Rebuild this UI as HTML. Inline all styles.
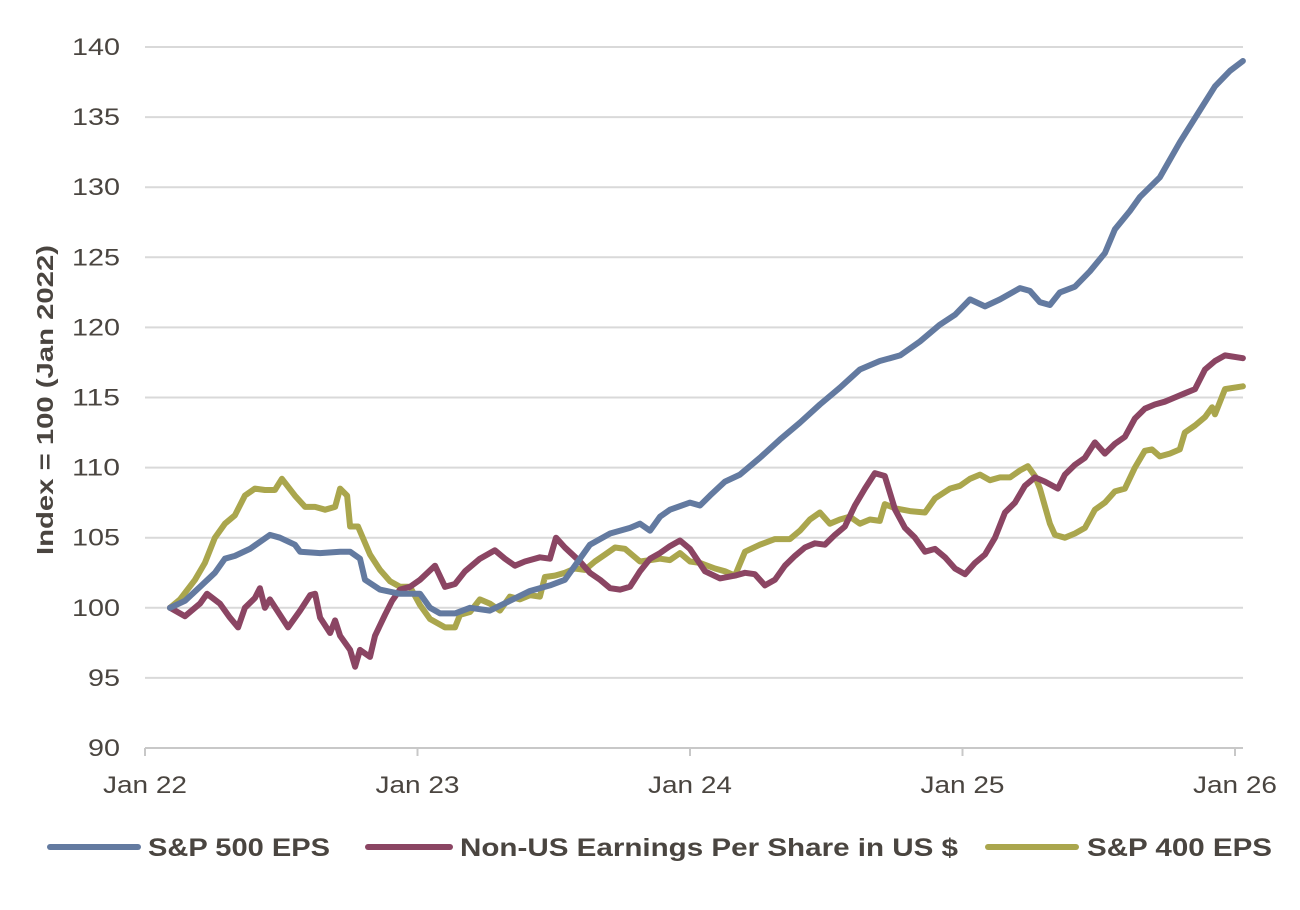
<!DOCTYPE html>
<html><head><meta charset="utf-8"><style>
html,body{margin:0;padding:0;background:#fff;}
svg{display:block;font-family:"Liberation Sans",sans-serif;}
</style></head><body>
<svg id="chart" width="1300" height="910" viewBox="0 0 1300 910">
<g id="grid"></g>
<g id="yticks"></g>
<g id="xaxis"></g>
<g id="series"></g>
<text transform="translate(53,400) rotate(-90)" text-anchor="middle" font-size="23" font-weight="bold" fill="#4a4540" textLength="310" lengthAdjust="spacingAndGlyphs">Index = 100 (Jan 2022)</text>
<g>
 <g><line x1="50" y1="847" x2="138" y2="847" stroke="#637aa0" stroke-width="6" stroke-linecap="round"/><text x="148" y="856" font-size="25" font-weight="bold" fill="#4a4540" textLength="182" lengthAdjust="spacingAndGlyphs">S&amp;P 500 EPS</text></g>
 <g><line x1="368" y1="847" x2="450" y2="847" stroke="#8b4563" stroke-width="6" stroke-linecap="round"/><text x="460" y="856" font-size="25" font-weight="bold" fill="#4a4540" textLength="498" lengthAdjust="spacingAndGlyphs">Non-US Earnings Per Share in US $</text></g>
 <g><line x1="988" y1="847" x2="1076" y2="847" stroke="#aaa64d" stroke-width="6" stroke-linecap="round"/><text x="1087" y="856" font-size="25" font-weight="bold" fill="#4a4540" textLength="185" lengthAdjust="spacingAndGlyphs">S&amp;P 400 EPS</text></g>
</g>
</svg>
<script>
// months since Jan 2022, index values
const yTicks = [90,95,100,105,110,115,120,125,130,135,140];
const xTickMonths = [0,12,24,36,48];
const xTickLabels = ["Jan 22","Jan 23","Jan 24","Jan 25","Jan 26"];

const spMonths = [1.10,1.76,2.42,3.08,3.52,3.96,4.62,5.50,5.94,6.60,6.83,7.71,8.59,9.03,9.47,9.69,10.35,11.23,12.11,12.55,12.99,13.65,14.31,15.19,16.07,16.95,17.83,18.49,19.15,19.59,20.48,21.36,21.80,22.24,22.68,23.12,24.00,24.44,24.88,25.54,26.20,27.08,27.96,28.84,29.72,30.60,31.48,32.36,33.25,34.13,35.01,35.67,36.33,36.99,37.65,38.53,38.97,39.41,39.85,40.29,40.95,41.61,42.27,42.71,43.37,43.81,44.69,45.57,46.46,47.12,47.78,48.35];
const spValues = [100,100.5,101.5,102.5,103.5,103.7,104.2,105.2,105,104.5,104,103.9,104,104,103.5,102,101.3,101,101,100,99.6,99.6,100,99.8,100.5,101.2,101.6,102,103.5,104.5,105.3,105.7,106,105.5,106.5,107,107.5,107.3,108,109,109.5,110.7,112,113.2,114.5,115.7,117,117.6,118,119,120.2,120.9,122,121.5,122,122.8,122.6,121.8,121.6,122.5,122.9,124,125.3,127,128.3,129.3,130.7,133.2,135.5,137.2,138.3,139];

const nuMonths = [1.10,1.76,2.42,2.73,3.30,3.74,4.10,4.40,4.84,5.06,5.28,5.50,6.30,6.83,7.27,7.49,7.71,8.15,8.37,8.59,9.03,9.25,9.47,9.91,10.13,10.57,10.88,11.23,11.67,12.11,12.77,13.21,13.65,14.09,14.75,15.41,15.85,16.29,16.73,17.39,17.83,18.10,18.49,19.15,19.59,20.04,20.48,20.92,21.36,21.80,22.24,22.68,23.12,23.56,24.00,24.66,25.32,25.98,26.42,26.86,27.30,27.74,28.18,28.62,29.06,29.50,29.94,30.38,30.82,31.26,31.70,32.14,32.58,33.03,33.47,33.91,34.35,34.79,35.23,35.67,36.11,36.55,36.99,37.43,37.87,38.31,38.75,39.19,39.63,40.20,40.51,40.95,41.39,41.83,42.27,42.71,43.15,43.59,44.03,44.47,44.91,45.35,45.79,46.24,46.68,47.12,47.56,48.35];
const nuValues = [100,99.4,100.3,101,100.3,99.3,98.6,100,100.7,101.4,100,100.6,98.6,99.8,100.9,101,99.3,98.2,99.1,98,97,95.8,97,96.5,98,99.5,100.5,101.3,101.5,102,103,101.5,101.7,102.6,103.5,104.1,103.5,103,103.3,103.6,103.5,105,104.3,103.3,102.5,102,101.4,101.3,101.5,102.6,103.5,103.9,104.4,104.8,104.2,102.6,102.1,102.3,102.5,102.4,101.6,102,103,103.7,104.3,104.6,104.5,105.2,105.8,107.3,108.5,109.6,109.4,107,105.7,105,104,104.2,103.6,102.8,102.4,103.2,103.8,105,106.8,107.5,108.7,109.3,109,108.5,109.5,110.2,110.7,111.8,111,111.7,112.2,113.5,114.2,114.5,114.7,115,115.3,115.6,117,117.6,118,117.8];

const midMonths = [1.10,1.54,2.20,2.64,3.08,3.52,3.96,4.40,4.84,5.28,5.72,6.03,6.60,7.05,7.49,7.93,8.37,8.59,8.90,9.03,9.38,9.91,10.35,10.79,11.23,11.67,12.11,12.55,13.21,13.65,13.87,14.31,14.75,15.19,15.63,16.07,16.51,16.95,17.39,17.61,18.05,18.49,18.93,19.37,19.81,20.26,20.70,21.14,21.80,22.24,22.68,23.12,23.56,24.00,24.44,25.10,25.54,25.98,26.42,27.08,27.74,28.40,28.84,29.28,29.72,30.16,30.60,31.04,31.48,31.92,32.36,32.58,33.03,33.69,34.35,34.79,35.45,35.89,36.33,36.77,37.21,37.65,38.09,38.53,38.88,39.19,39.41,39.85,40.07,40.51,40.95,41.39,41.83,42.27,42.71,43.15,43.59,44.03,44.34,44.69,45.13,45.57,45.79,46.24,46.68,46.99,47.12,47.56,48.35];
const midValues = [100,100.6,102,103.2,105,106,106.6,108,108.5,108.4,108.4,109.2,108,107.2,107.2,107,107.2,108.5,108,105.8,105.8,103.8,102.7,101.9,101.5,101.5,100.2,99.2,98.6,98.6,99.5,99.7,100.6,100.3,99.8,100.8,100.6,100.9,100.8,102.2,102.3,102.5,102.8,102.7,103.3,103.8,104.3,104.2,103.3,103.4,103.5,103.4,103.9,103.3,103.2,102.8,102.6,102.3,104,104.5,104.9,104.9,105.5,106.3,106.8,106,106.3,106.5,106,106.3,106.2,107.4,107.1,106.9,106.8,107.8,108.5,108.7,109.2,109.5,109.1,109.3,109.3,109.8,110.1,109.4,108.5,106,105.2,105,105.3,105.7,107,107.5,108.3,108.5,110,111.2,111.3,110.8,111,111.3,112.5,113,113.6,114.3,113.8,115.6,115.8];

const X0=145, X1=1235, Y0=748, Y1=47, YMIN=90, YMAX=140;
const xs = m => X0 + (X1-X0)*m/48;
const ys = v => Y0 - (Y0-Y1)*(v-YMIN)/(YMAX-YMIN);
const NS="http://www.w3.org/2000/svg";
function mk(tag, attrs){const e=document.createElementNS(NS,tag);for(const k in attrs)e.setAttribute(k,attrs[k]);return e;}
const grid=document.getElementById('grid'), yt=document.getElementById('yticks'), xa=document.getElementById('xaxis'), se=document.getElementById('series');
yTicks.forEach(v=>{
  if(v>YMIN){const l=mk('line',{x1:X0,x2:1243,y1:ys(v),y2:ys(v),stroke:'#d9d9d9','stroke-width':2});
  
  
  grid.appendChild(l);}
  const t=mk('text',{x:120,y:ys(v)+8,'text-anchor':'end','font-size':24,fill:'#4a4540',textLength:(String(v).length*16),lengthAdjust:'spacingAndGlyphs'});
  t.textContent=v;
  
  
  yt.appendChild(t);
});
const ax=mk('line',{x1:X0,x2:1243,y1:Y0,y2:Y0,stroke:'#c8c8c8','stroke-width':2});


xa.appendChild(ax);
xTickMonths.forEach((m,i)=>{
  const tk=mk('line',{x1:xs(m),x2:xs(m),y1:Y0,y2:Y0+8,stroke:'#c8c8c8','stroke-width':2});
  
  
  xa.appendChild(tk);
  const t=mk('text',{x:xs(m),y:793,'text-anchor':'middle','font-size':24,fill:'#4a4540',textLength:84,lengthAdjust:'spacingAndGlyphs'});
  t.textContent=xTickLabels[i];
  
  
  xa.appendChild(t);
});
function line(ms, vs, color, name){
  const d=ms.map((m,i)=>(i?'L':'M')+xs(m).toFixed(1)+' '+ys(vs[i]).toFixed(1)).join(' ');
  const p=mk('path',{d:d,fill:'none',stroke:color,'stroke-width':6,'stroke-linejoin':'round','stroke-linecap':'round'});
  
  
  se.appendChild(p);
}
line(midMonths, midValues, '#aaa64d', 'sp400-eps-line');
line(nuMonths, nuValues, '#8b4563', 'non-us-eps-line');
line(spMonths, spValues, '#637aa0', 'sp500-eps-line');
</script>
</body></html>
